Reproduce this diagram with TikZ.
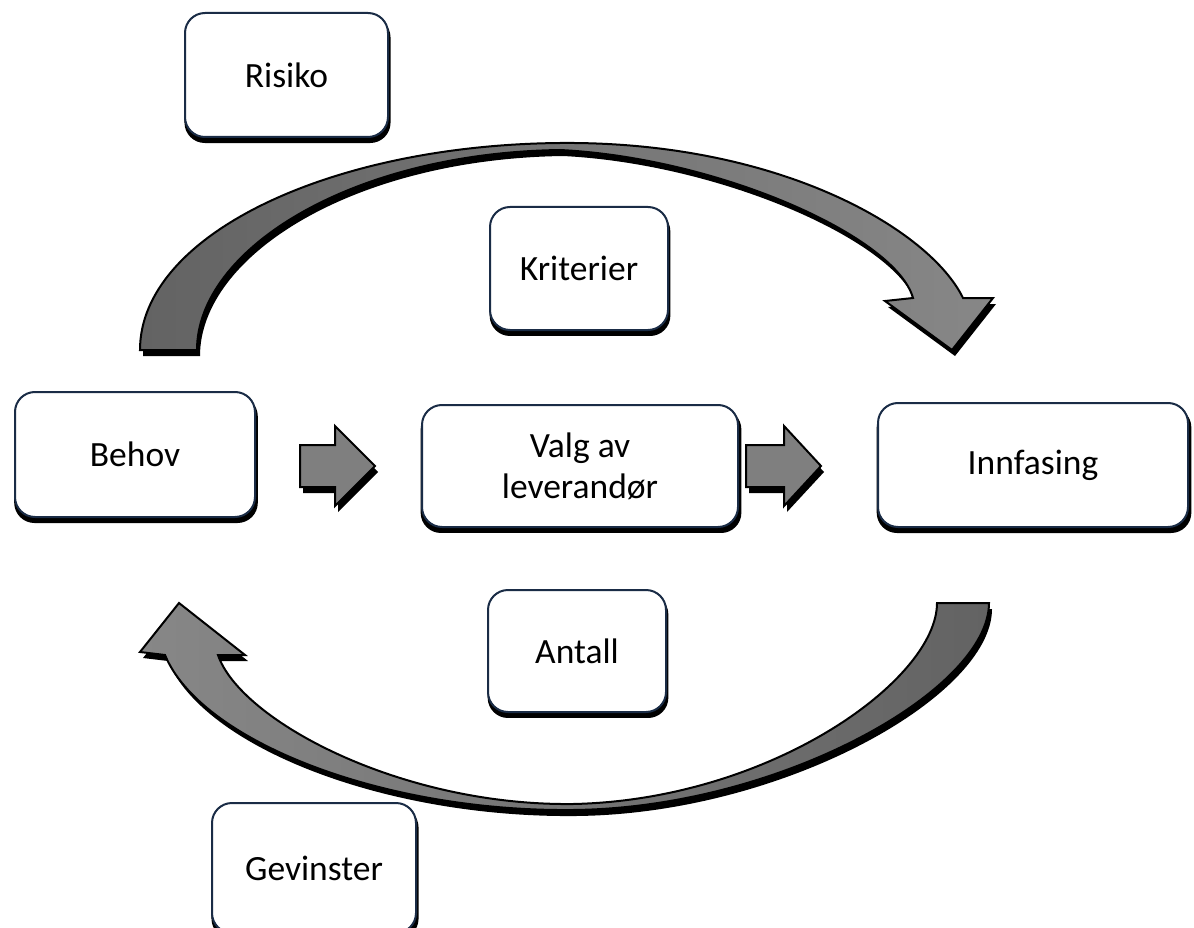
\documentclass[tikz,border=0pt]{standalone}
\usepackage{fontspec}
\setmainfont{Carlito}
\usetikzlibrary{shadows}

\definecolor{boxline}{HTML}{1A2C46}
\definecolor{arrowdark}{HTML}{636363}
\definecolor{arrowlight}{HTML}{878787}
\definecolor{arrowmid}{HTML}{7F7F7F}

\tikzset{
  procbox/.style={draw=boxline, line width=2pt, fill=white, rounded corners=20pt,
    align=center, font=\fontsize{35.5}{39}\selectfont, inner sep=0pt,
    drop shadow={shadow xshift=1pt, shadow yshift=-5pt, shadow scale=1.015,
      fill=black, opacity=1}},
  bigarrow/.style={draw=black, line width=2pt, line join=miter,
    drop shadow={shadow xshift=3pt, shadow yshift=-6pt, fill=black, opacity=1}},
}

\begin{document}
\begin{tikzpicture}[x=1pt, y=-1pt]
\useasboundingbox (0,0) rectangle (1194,928);

% process boxes
\node[procbox, minimum width=203pt, minimum height=124pt] (risiko) at (286.5,75) {Risiko};
\node[procbox, minimum width=178pt, minimum height=123pt] (kriterier) at (579,268.5) {Kriterier};
\node[procbox, minimum width=240pt, minimum height=125pt] (behov) at (135,454.5) {Behov};
\node[procbox, minimum width=316pt, minimum height=122pt] (valg) at (580,466) {Valg av\\[2pt]leverandør};
\node[procbox, minimum width=310pt, minimum height=124pt] (innfasing) at (1033,465) {Innfasing};
\node[procbox, minimum width=178pt, minimum height=122pt] (antall) at (577,651) {Antall};
\node[procbox, minimum width=204pt, minimum height=130pt] (gevinster) at (314,868) {Gevinster};

% straight block arrows between the middle row
\path[bigarrow, fill=arrowmid]
  (300,445) -- (335,445) -- (335,426) -- (375,466) -- (335,506) -- (335,487) -- (300,487) -- cycle;
\path[bigarrow, fill=arrowmid]
  (746,445) -- (784,445) -- (784,426) -- (821,466) -- (784,506) -- (784,487) -- (746,487) -- cycle;

% curved arrow over the top: Behov to Innfasing
\path[bigarrow, left color=arrowdark, right color=arrowlight]
  (140,350) .. controls (140,235) and (330,145) .. (560,143)
            .. controls (780,141) and (930,230) .. (963,298)
  -- (993,298) -- (952,350) -- (885,301) -- (913,298)
            .. controls (896,237) and (720,158) .. (560,150)
            .. controls (350,153) and (197,250) .. (197,350)
  -- cycle;

% curved arrow underneath: Innfasing back to Behov
\path[bigarrow, left color=arrowlight, right color=arrowdark]
  (989,603) .. controls (989,690) and (780,808) .. (573,810)
            .. controls (380,812) and (200,740) .. (165,655)
  -- (140,652) -- (179,603) -- (245,655) -- (218,655)
            .. controls (240,720) and (400,806) .. (573,804)
            .. controls (770,800) and (937,680) .. (937,603)
  -- cycle;
\end{tikzpicture}
\end{document}
